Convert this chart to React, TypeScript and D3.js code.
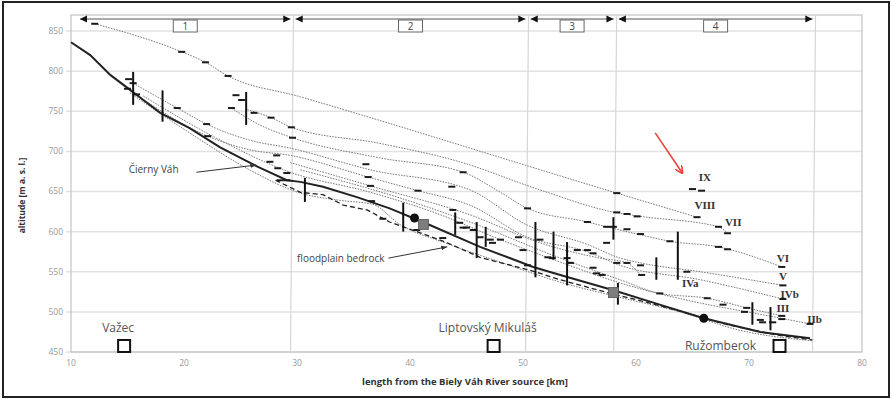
import React from 'react';
import * as d3 from 'd3';

const W = 892;
const H = 399;

const yTicks = [450, 500, 550, 600, 650, 700, 750, 800, 850];
const xTicks = [10, 20, 30, 40, 50, 60, 70, 80];

// terrace profiles [km, m a.s.l.]
const terraceVIII = [[12.1, 859], [19.8, 824], [21.9, 811], [23.9, 794], [30.3, 768], [58.3, 648], [65.4, 618]];
const terraceVII = [[25.6, 752], [27.7, 742], [29.5, 730], [37.3, 710], [44.4, 687], [51.5, 652], [58.1, 624], [60.4, 619], [67.3, 606], [68.1, 598]];
const terraceVI = [[24.2, 754], [26.7, 733], [29.6, 717], [37.3, 692], [44.7, 674], [48.0, 649], [50.4, 629], [55.7, 612], [57.4, 606], [60.4, 596], [63.0, 588], [67.3, 581], [72.9, 556]];
const terraceV = [[15.5, 785], [19.4, 754], [22.0, 734], [25.8, 714], [29.4, 704], [36.5, 677], [45.3, 652], [50.4, 608], [55.7, 584], [58.6, 567], [60.4, 561], [65.7, 550], [73.0, 533]];
const terraceIVb = [[15.0, 778], [22.1, 719], [25.8, 702], [29.4, 695], [36.3, 668], [40.7, 651], [45.3, 633], [50.4, 593], [55.7, 575], [58.6, 558], [65.7, 540], [73.0, 516]];
const terraceIVa = [[29.4, 686], [36.5, 657], [45.3, 621], [51.5, 586], [56.8, 567], [59.2, 561], [60.4, 546]];
const terraceIII = [[30.3, 677], [39.1, 642], [45.3, 612], [53.3, 567], [58.6, 540], [62.1, 523], [66.3, 517], [69.8, 505], [72.9, 495]];
const terraceIIb = [[16.4, 769], [23.2, 714], [29.4, 674], [36.5, 649], [42.7, 621], [48.0, 590], [53.3, 562], [58.6, 536], [65.7, 511], [71.0, 497], [75.4, 485]];
const terraceLow = [[15.2, 773], [20.5, 723], [25.8, 677], [30.3, 648], [33.8, 639], [36.7, 634], [39.1, 609], [43.1, 586], [48.0, 562], [53.3, 537], [58.0, 520], [63.9, 500], [69.2, 477], [75.6, 464]];

const river = [[10.0, 836], [11.7, 820], [13.5, 795], [15.2, 777], [16.4, 764], [17.9, 748], [20.5, 729], [23.2, 705], [26.5, 681], [29.1, 664], [30.3, 662], [32.3, 656], [35.3, 643], [38.2, 629], [41.8, 608], [46.2, 581], [50.9, 556], [53.3, 546], [58.0, 527], [62.1, 509], [66.0, 492], [71.0, 475], [75.4, 467]];
const bedrock = [[28.1, 664], [30.3, 649], [32.3, 646], [34.1, 633], [36.2, 627], [38.2, 612], [41.2, 597], [43.3, 586], [46.2, 568], [50.6, 552], [53.3, 540], [58.0, 522], [60.1, 515], [63.6, 502], [68.1, 484], [72.5, 471], [75.6, 465]];

// terrace remnants (short dashes)
const remnants = [
  [12.1, 859], [19.8, 824], [21.9, 811], [23.9, 794], [24.6, 770], [25.1, 764], [24.2, 754], [26.2, 748], [27.7, 742], [29.5, 730], [29.6, 717],
  [15.1, 790], [15.5, 785], [15.0, 778], [15.8, 771], [19.4, 754], [22.0, 734], [22.1, 719], [28.2, 695], [27.6, 687], [28.3, 679], [29.1, 673], [28.5, 664], [29.1, 664],
  [36.1, 684], [36.3, 668], [36.5, 657], [40.7, 651], [43.7, 656], [44.7, 674], [58.3, 648],
  [50.4, 629], [55.7, 612], [57.4, 606], [58.3, 624], [59.2, 622], [60.1, 619], [58.0, 606],
  [49.6, 593], [50.0, 577], [50.4, 558], [51.5, 590], [52.2, 568], [52.6, 567], [53.9, 567], [54.2, 561], [54.8, 577], [55.7, 577], [56.2, 573], [57.4, 586], [58.3, 561], [59.2, 561], [60.4, 558],
  [45.0, 605], [45.6, 602], [46.2, 593], [47.1, 590], [47.3, 586], [48.0, 590],
  [59.2, 603], [60.4, 597], [63.0, 588], [67.3, 581], [68.1, 578], [72.9, 556], [67.3, 606], [68.1, 598],
  [65.0, 653], [65.8, 651], [65.4, 618], [73.0, 533], [73.0, 516], [72.9, 495], [72.9, 491], [75.4, 485],
  [64.5, 550], [60.5, 546], [62.1, 523], [66.3, 517], [67.7, 509], [69.8, 505], [72.1, 487],
  [36.6, 638], [37.6, 616], [40.6, 602], [42.9, 592], [43.8, 627], [44.4, 611], [44.7, 605],
  [56.5, 548], [57.0, 546], [56.2, 555], [69.6, 500], [71.0, 490], [71.2, 487]
];

// vertical extent bars [km, top, bottom]
const bars = [
  [15.5, 799, 758], [18.1, 776, 737], [25.5, 774, 733], [30.7, 667, 637], [39.4, 636, 600], [44.0, 624, 596],
  [45.9, 612, 567], [46.7, 606, 581], [51.1, 612, 543], [52.7, 600, 565], [53.9, 587, 533], [58.0, 618, 590],
  [58.4, 536, 509], [61.8, 568, 540], [63.7, 600, 540], [70.3, 512, 484], [71.9, 506, 477]
];

const blackDots = [[40.4, 617], [66.0, 492]];
const graySquares = [[41.2, 609], [58.0, 524]];

const terraceLabels = ['IX', 'VIII', 'VII', 'VI', 'V', 'IVb', 'III', 'IIb', 'IVa'];
const terraceLabelPos = [[66.1, 668], [66.1, 633], [68.6, 612], [73.0, 567], [73.0, 545], [73.6, 522], [73.0, 505], [75.8, 491], [64.8, 536]];

const towns = ['Važec', 'Liptovský Mikuláš', 'Ružomberok'];
const townKm = [14.7, 47.4, 72.7];
const townAlt = 457.5;

const zoneLabels = ['1', '2', '3', '4'];
const zoneBounds = [10.8, 29.6, 50.4, 58.2, 75.8];

export default function App() {
  const x = d3.scaleLinear().domain([10, 80]).range([71, 862]);
  const y = d3.scaleLinear().domain([450, 850]).range([352, 31]);
  const smooth = d3.line<number[]>().x(d => x(d[0])).y(d => y(d[1])).curve(d3.curveMonotoneX);
  const straight = d3.line<number[]>().x(d => x(d[0])).y(d => y(d[1]));

  const terraces = [terraceVIII, terraceVII, terraceVI, terraceV, terraceIVb, terraceIVa, terraceIII, terraceIIb, terraceLow];
  const top = 15;
  const bottom = y(450);
  const arrowY = 19;

  return (
    <svg width={W} height={H} style={{ position: 'absolute', left: 0, top: 0, background: '#fff' }}
      fontFamily="'Open Sans', 'Liberation Sans', sans-serif">
      <defs>
        <marker id="hd" viewBox="0 0 10 10" refX="10" refY="5" markerWidth="6" markerHeight="6" orient="auto-start-reverse">
          <path d="M0,0 L10,5 L0,10 z" fill="#111" />
        </marker>
        <marker id="ah" viewBox="0 0 10 10" refX="10" refY="5" markerWidth="6" markerHeight="6" orient="auto">
          <path d="M0,1 L10,5 L0,9 z" fill="#333" />
        </marker>
        <marker id="ar" viewBox="0 0 10 10" refX="9" refY="5" markerWidth="5" markerHeight="5" orient="auto">
          <path d="M0,0 L10,5 L0,10" fill="none" stroke="#e8453c" strokeWidth="2" />
        </marker>
      </defs>

      <rect x={3} y={2} width={886} height={395} fill="#fff" stroke="#222" strokeWidth={2} />

      {/* grid */}
      {yTicks.map(t => (
        <g key={t}>
          <line x1={66} x2={862} y1={y(t)} y2={y(t)} stroke="#e2e2e2" strokeWidth={1.5} />
          <text x={63} y={y(t)} dy="0.35em" textAnchor="end" fontSize={8.5} fill="#999">{t}</text>
        </g>
      ))}
      {xTicks.map(t => (
        <text key={t} x={x(t)} y={bottom + 14} textAnchor="middle" fontSize={8.5} fill="#999">{t}</text>
      ))}
      <rect x={x(10)} y={top} width={x(80) - x(10)} height={bottom - top} fill="none" stroke="#c4c4c4" strokeWidth={1.2} />

      {/* zone boundaries */}
      {zoneBounds.slice(1).map((b, i) => (
        <line key={i} x1={x(b) + 1} x2={x(b) - 2} y1={top} y2={bottom} stroke="#d6d6d6" strokeWidth={1.2} />
      ))}
      {zoneLabels.map((lab, i) => {
        const x0 = x(zoneBounds[i]) + (i === 0 ? 0 : 3);
        const x1 = x(zoneBounds[i + 1]) - 2;
        const mid = (x0 + x1) / 2;
        return (
          <g key={lab}>
            <line x1={x0} x2={x1} y1={arrowY} y2={arrowY} stroke="#555" strokeWidth={1.2} markerStart="url(#hd)" markerEnd="url(#hd)" />
            <rect x={mid - 12} y={arrowY + 1} width={24} height={12} fill="#fff" stroke="#666" strokeWidth={1} />
            <text x={mid} y={arrowY + 11} textAnchor="middle" fontSize={10} fill="#444">{lab}</text>
          </g>
        );
      })}

      {/* terrace profiles */}
      {terraces.map((t, i) => (
        <path key={i} d={smooth(t) || ''} fill="none" stroke="#7a7a7a" strokeWidth={1} strokeDasharray="1.6,1.2" />
      ))}
      <path d={straight(bedrock) || ''} fill="none" stroke="#222" strokeWidth={1.3} strokeDasharray="5,3" />
      <path d={straight(river) || ''} fill="none" stroke="#222" strokeWidth={2} />

      {remnants.map((d, i) => (
        <line key={i} x1={x(d[0]) - 3.5} x2={x(d[0]) + 3.5} y1={y(d[1])} y2={y(d[1])} stroke="#1a1a1a" strokeWidth={2} />
      ))}
      {bars.map((d, i) => (
        <line key={i} x1={x(d[0])} x2={x(d[0])} y1={y(d[1])} y2={y(d[2])} stroke="#111" strokeWidth={2} />
      ))}
      {blackDots.map((d, i) => (
        <circle key={i} cx={x(d[0])} cy={y(d[1])} r={4.5} fill="#111" />
      ))}
      {graySquares.map((d, i) => (
        <rect key={i} x={x(d[0]) - 5} y={y(d[1]) - 5} width={10} height={10} fill="#7d7d7d" stroke="#555" strokeWidth={0.8} />
      ))}

      {/* terrace labels */}
      {terraceLabels.map((lab, i) => (
        <text key={lab} x={x(terraceLabelPos[i][0])} y={y(terraceLabelPos[i][1])} dy="0.35em" textAnchor="middle"
          fontFamily="'Liberation Serif', serif" fontWeight="bold" fontSize={11} fill="#333">{lab}</text>
      ))}

      {/* annotations */}
      <text x={x(15.1)} y={y(677)} dy="0.35em" fontSize={10} fill="#444">Čierny Váh</text>
      <line x1={x(21.1)} y1={y(674)} x2={x(26.4)} y2={y(683)} stroke="#333" strokeWidth={1} markerEnd="url(#ah)" />
      <text x={x(30.0)} y={y(567)} dy="0.35em" fontSize={10} fill="#444">floodplain bedrock</text>
      <line x1={x(38.1)} y1={y(567)} x2={x(43.3)} y2={y(581)} stroke="#333" strokeWidth={1} markerEnd="url(#ah)" />
      <line x1={x(61.7)} y1={y(723)} x2={x(64.1)} y2={y(673)} stroke="#e8453c" strokeWidth={1.6} markerEnd="url(#ar)" />

      {/* towns */}
      {towns.map((name, i) => {
        const cx = x(townKm[i]);
        const cy = y(townAlt);
        const last = i === towns.length - 1;
        return (
          <g key={name}>
            <rect x={cx - 6} y={cy - 6} width={12} height={12} fill="#fff" stroke="#111" strokeWidth={2} />
            <text x={last ? cx - 59 : cx - 6} y={last ? cy + 4 : cy - 14} textAnchor="middle" fontSize={12} fill="#555">{name}</text>
          </g>
        );
      })}

      {/* axis titles */}
      <text transform={`translate(25,${(top + bottom) / 2 + 12}) rotate(-90)`} textAnchor="middle" fontSize={8.5} fontWeight="bold" fill="#333">
        altitude [m a. s. l.]
      </text>
      <text x={465} y={385} textAnchor="middle" fontSize={9.5} fontWeight="bold" fill="#333">
        length from the Biely Váh River source [km]
      </text>
    </svg>
  );
}
